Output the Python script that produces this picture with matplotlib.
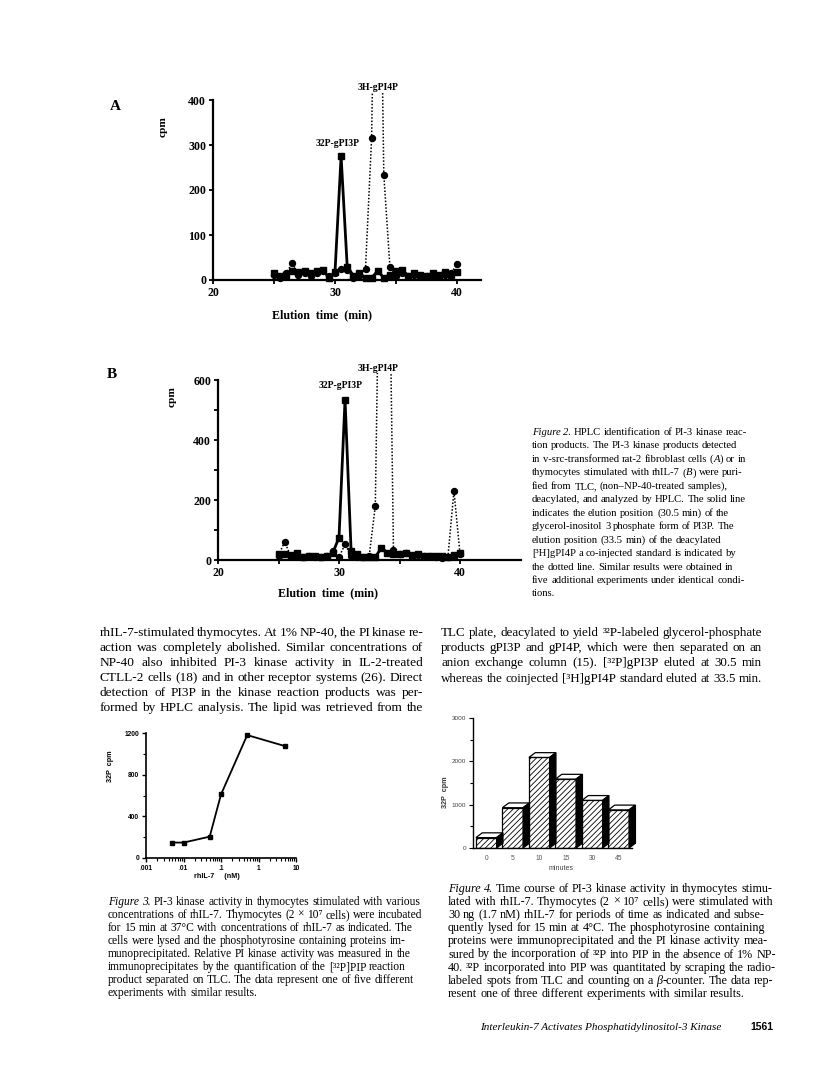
import numpy as np
import matplotlib
matplotlib.use('Agg')
import matplotlib.pyplot as plt
from matplotlib.patches import Polygon
from matplotlib.ticker import FixedLocator, LogLocator, NullFormatter

SERIF = ['Liberation Serif', 'DejaVu Serif']
SANS = ['Liberation Sans', 'DejaVu Sans']

# ---- Figure 2 : HPLC elution profiles -------------------------------------
elution_min = [25, 25.5, 26, 26.5, 27, 27.5, 28, 28.5, 29, 29.5, 30, 30.5, 31,
               31.5, 32, 32.5, 33, 33.5, 34, 34.5, 35, 35.5, 36, 36.5, 37, 37.5,
               38, 38.5, 39, 39.5, 40]
a_gpi3p = [15, 8, 12, 20, 18, 20, 15, 20, 22, 5, 18, 275, 30, 10, 15, 5, 5,
           20, 5, 12, 20, 22, 10, 15, 12, 10, 15, 12, 18, 12, 18]
a_gpi4p = [12, 5, 15, 38, 12, 15, 10, 15, 20, 10, 15, 25, 22, 5, 10, 25, 315,
           1200, 234, 30, 10, 15, 8, 12, 8, 8, 10, 10, 12, 15, 35]
b_gpi3p = [20, 20, 18, 22, 10, 15, 12, 10, 12, 25, 75, 535, 30, 20, 10, 10, 10,
           40, 25, 20, 20, 25, 18, 20, 15, 15, 12, 12, 10, 18, 25]
b_gpi4p = [15, 60, 15, 15, 10, 12, 10, 10, 15, 30, 10, 52, 15, 10, 10, 15, 180,
           1500, 1500, 35, 20, 25, 15, 18, 15, 12, 10, 8, 10, 230, 20]

# ---- Figure 3 : dose response -------------------------------------------
rhil7_nm = [0.005, 0.01, 0.05, 0.1, 0.5, 5]
dose_cpm = [148, 148, 205, 610, 1180, 1075]

# ---- Figure 4 : time course --------------------------------------------
time_labels = ['0', '5', '10', '15', '30', '45']
time_cpm = [240, 930, 2090, 1590, 1100, 880]

W, H = 816, 1074
fig = plt.figure(figsize=(W / 100, H / 100), dpi=100)
fig.patch.set_facecolor('white')
renderer = fig.canvas.get_renderer()


def px_axes(left, top, right, bottom):
    return fig.add_axes([left / W, 1 - bottom / H, (right - left) / W, (bottom - top) / H])


def ftext(x, y, s, **kw):
    return fig.text(x / W, 1 - y / H, s, **kw)


def measure(s, size, style='normal'):
    t = fig.text(0, 0, s, fontsize=size, style=style, family=SERIF)
    w = t.get_window_extent(renderer).width
    t.remove()
    return w


def parse(line):
    # words made of (text, italic) segments; '*' toggles italic
    words, cur, seg, ital = [], [], '', False
    for ch in line:
        if ch == '*':
            if seg:
                cur.append((seg, ital))
                seg = ''
            ital = not ital
        elif ch == ' ':
            if seg:
                cur.append((seg, ital))
                seg = ''
            if cur:
                words.append(cur)
                cur = []
        else:
            seg += ch
    if seg:
        cur.append((seg, ital))
    if cur:
        words.append(cur)
    return words


def natural_width(line, size):
    words = parse(line)
    sp = measure('n n', size) - measure('nn', size)
    tot = sum(measure(s, size, 'italic' if it else 'normal') for w in words for s, it in w)
    return tot + sp * (len(words) - 1)


def draw_line(line, x0, y, size, x1=None):
    words = parse(line)
    sp = measure('n n', size) - measure('nn', size)
    objs, widths = [], []
    for w in words:
        ts, ws = [], []
        for s, it in w:
            t = ftext(0, y, s, fontsize=size, style='italic' if it else 'normal',
                      family=SERIF, va='baseline', ha='left')
            ts.append(t)
            ws.append(t.get_window_extent(renderer).width)
        objs.append((ts, ws))
        widths.append(sum(ws))
    gap = sp
    if x1 is not None and len(words) > 1:
        gap = max((x1 - x0 - sum(widths)) / (len(words) - 1), 0.6 * sp)
    x = x0
    for (ts, ws), wsum in zip(objs, widths):
        xx = x
        for t, w in zip(ts, ws):
            t.set_x(xx / W)
            xx += w
        x += wsum + gap


def text_block(lines, x0, y0, step, width, justify=False):
    if justify:
        size = np.mean([10 * width / natural_width(ln, 10) for ln in lines]) * 0.985
    else:
        size = 10 * width / natural_width(lines[0], 10)
    for i, ln in enumerate(lines):
        draw_line(ln, x0, y0 + i * step, size, x0 + width if justify else None)


def hplc_panel(rect, sq, ci, ylim, yticks, yminor, xlim, top_val, lab3, lab4, letter, cpm_xy, xl_xy):
    ax = px_axes(*rect)
    ax.plot(elution_min, ci, color='k', ls=(0, (1, 1.2)), lw=1.1, marker='o', ms=4.3, zorder=2)
    ax.plot(elution_min, sq, color='k', ls='-', lw=2.0, marker='s', ms=5, zorder=3)
    ax.set_xlim(*xlim)
    ax.set_ylim(*ylim)
    for s in ['top', 'right']:
        ax.spines[s].set_visible(False)
    ax.spines['bottom'].set_position(('data', 0))
    ax.spines['left'].set_bounds(0, top_val)
    for s in ['bottom', 'left']:
        ax.spines[s].set_linewidth(1.6)
    ax.set_xticks([20, 30, 40])
    ax.xaxis.set_minor_locator(FixedLocator([25, 35]))
    ax.set_yticks(yticks)
    ax.yaxis.set_minor_locator(FixedLocator(yminor))
    ax.tick_params(which='both', direction='out', width=1.3, length=3, pad=2, labelsize=8.6)
    for lab in ax.get_xticklabels() + ax.get_yticklabels():
        lab.set_fontfamily(SERIF)
        lab.set_fontweight('bold')
    ax.text(lab3[0], lab3[1], '32P-gPI3P', ha='center', va='center', fontsize=7,
            weight='bold', family=SERIF)
    ax.text(lab4, ylim[1], '3H-gPI4P', ha='center', va='bottom', fontsize=7,
            weight='bold', family=SERIF)
    ftext(letter[0], letter[1], letter[2], fontsize=11, weight='bold', family=SERIF,
          ha='center', va='center')
    ftext(cpm_xy[0], cpm_xy[1], 'cpm', fontsize=8.2, weight='bold', family=SERIF,
          rotation=90, ha='center', va='center')
    ftext(xl_xy[0], xl_xy[1], 'Elution  time  (min)', fontsize=8.6, weight='bold',
          family=SERIF, ha='center', va='center')
    return ax


hplc_panel((213, 91.9, 481.4, 286.75), a_gpi3p, a_gpi4p, (-15, 418), [0, 100, 200, 300, 400], [],
           (20, 42), 400, (30.2, 304), 33.5, (115, 107, 'A'), (163, 127), (322, 315))
hplc_panel((218, 372.5, 520.5, 566), b_gpi3p, b_gpi4p, (-20, 625), [0, 200, 400, 600], [100, 300, 500],
           (20, 45), 600, (30.1, 583), 33.2, (112, 374, 'B'), (172, 397), (328, 593))

# ---- Figure 3 axes --------------------------------------------------------
ax3 = px_axes(146, 733, 296, 858)
ax3.plot(rhil7_nm, dose_cpm, color='k', lw=1.3, marker='s', ms=3, clip_on=False)
ax3.set_xscale('log')
ax3.set_xlim(0.001, 10)
ax3.set_ylim(0, 1200)
for s in ['top', 'right']:
    ax3.spines[s].set_visible(False)
for s in ['bottom', 'left']:
    ax3.spines[s].set_linewidth(1.2)
ax3.set_xticks([0.001, 0.01, 0.1, 1, 10])
ax3.set_xticklabels(['.001', '.01', '.1', '1', '10'])
ax3.xaxis.set_minor_locator(LogLocator(base=10, subs=range(2, 10)))
ax3.xaxis.set_minor_formatter(NullFormatter())
ax3.set_yticks([0, 400, 800, 1200])
ax3.yaxis.set_minor_locator(FixedLocator([200, 600, 1000]))
ax3.tick_params(which='major', direction='out', length=3, width=1, pad=2, labelsize=4.8)
ax3.tick_params(which='minor', direction='out', length=2, width=0.8)
for lab in ax3.get_xticklabels() + ax3.get_yticklabels():
    lab.set_fontfamily(SANS)
    lab.set_fontweight('bold')
ftext(110, 766, '32P  cpm', fontsize=5.2, weight='bold', family=SANS, rotation=90,
      ha='center', va='center')
ftext(217, 877, 'rhIL-7     (nM)', fontsize=5.2, weight='bold', family=SANS,
      ha='center', va='center')

# ---- Figure 4 axes --------------------------------------------------------
plt.rcParams['hatch.linewidth'] = 0.6
ax4 = px_axes(473, 718, 632, 848)
pos = np.arange(len(time_cpm))
bw, dx, dy = 0.78, 0.24, 110
ax4.bar(pos, time_cpm, width=bw, color='white', edgecolor='k', lw=0.9,
        hatch='//////', zorder=2)
for p, v in zip(pos, time_cpm):
    x0, x1 = p - bw / 2, p + bw / 2
    ax4.add_patch(Polygon([(x0, v), (x0 + dx, v + dy), (x1 + dx, v + dy), (x1, v)],
                          closed=True, fc='white', ec='k', lw=0.9, zorder=3, clip_on=False))
    ax4.add_patch(Polygon([(x1, 0), (x1 + dx, dy), (x1 + dx, v + dy), (x1, v)],
                          closed=True, fc='k', ec='k', lw=0.9, zorder=3, clip_on=False))
ax4.set_xlim(-0.5, 5.5)
ax4.set_ylim(0, 3000)
for s in ['top', 'right']:
    ax4.spines[s].set_visible(False)
for s in ['bottom', 'left']:
    ax4.spines[s].set_linewidth(1.0)
ax4.set_xticks(pos)
ax4.set_xticklabels(time_labels)
ax4.set_yticks([0, 1000, 2000, 3000])
ax4.yaxis.set_minor_locator(FixedLocator([500, 1500, 2500]))
ax4.tick_params(axis='x', length=0, pad=5, labelsize=4.8, labelcolor='#555555')
ax4.tick_params(axis='y', which='major', direction='out', length=3, width=0.8, pad=2,
                labelsize=4.6, labelcolor='#444444')
ax4.tick_params(axis='y', which='minor', direction='out', length=2, width=0.8)
for lab in ax4.get_xticklabels() + ax4.get_yticklabels():
    lab.set_fontfamily(SANS)
ftext(446, 792, '32P  cpm', fontsize=5.2, weight='bold', family=SANS, rotation=90,
      ha='center', va='center', color='#333333')
ftext(561, 868, 'minutes', fontsize=5, family=SANS, ha='center', va='center',
      color='#444444')

# ---- text ---------------------------------------------------------------
fig2_caption = [
    '*Figure 2.* HPLC identification of PI-3 kinase reac-',
    'tion products. The PI-3 kinase products detected',
    'in v-src-transformed rat-2 fibroblast cells (*A*) or in',
    'thymocytes stimulated with rhIL-7 (*B*) were puri-',
    'fied from TLC, (non–NP-40-treated samples),',
    'deacylated, and analyzed by HPLC. The solid line',
    'indicates the elution position (30.5 min) of the',
    'glycerol-inositol 3 phosphate form of PI3P. The',
    'elution position (33.5 min) of the deacylated',
    '[³H]gPI4P a co-injected standard is indicated by',
    'the dotted line. Similar results were obtained in',
    'five additional experiments under identical condi-',
    'tions.',
]
body_left = [
    'rhIL-7-stimulated thymocytes. At 1% NP-40, the PI kinase re-',
    'action was completely abolished. Similar concentrations of',
    'NP-40 also inhibited PI-3 kinase activity in IL-2-treated',
    'CTLL-2 cells (18) and in other receptor systems (26). Direct',
    'detection of PI3P in the kinase reaction products was per-',
    'formed by HPLC analysis. The lipid was retrieved from the',
]
body_right = [
    'TLC plate, deacylated to yield ³²P-labeled glycerol-phosphate',
    'products gPI3P and gPI4P, which were then separated on an',
    'anion exchange column (15). [³²P]gPI3P eluted at 30.5 min',
    'whereas the coinjected [³H]gPI4P standard eluted at 33.5 min.',
]
fig3_caption = [
    '*Figure 3.* PI-3 kinase activity in thymocytes stimulated with various',
    'concentrations of rhIL-7. Thymocytes (2 × 10⁷ cells) were incubated',
    'for 15 min at 37°C with concentrations of rhIL-7 as indicated. The',
    'cells were lysed and the phosphotyrosine containing proteins im-',
    'munoprecipitated. Relative PI kinase activity was measured in the',
    'immunoprecipitates by the quantification of the [³²P]PIP reaction',
    'product separated on TLC. The data represent one of five different',
    'experiments with similar results.',
]
fig4_caption = [
    '*Figure 4.* Time course of PI-3 kinase activity in thymocytes stimu-',
    'lated with rhIL-7. Thymocytes (2 × 10⁷ cells) were stimulated with',
    '30 ng (1.7 nM) rhIL-7 for periods of time as indicated and subse-',
    'quently lysed for 15 min at 4°C. The phosphotyrosine containing',
    'proteins were immunoprecipitated and the PI kinase activity mea-',
    'sured by the incorporation of ³²P into PIP in the absence of 1% NP-',
    '40. ³²P incorporated into PIP was quantitated by scraping the radio-',
    'labeled spots from TLC and counting on a *β*-counter. The data rep-',
    'resent one of three different experiments with similar results.',
]

text_block(fig2_caption, 532, 435, 13.45, 216)
text_block(body_left, 100, 636, 15, 323, justify=True)
text_block(body_right, 441, 636, 15.2, 321, justify=True)
text_block(fig3_caption, 108, 905, 13.0, 314)
text_block(fig4_caption, 448, 892, 13.1, 322)

ftext(480, 1030, 'Interleukin-7 Activates Phosphatidylinositol-3 Kinase', fontsize=8,
      style='italic', family=SERIF, va='baseline', ha='left')
ftext(750, 1030, '1561', fontsize=7.5, weight='bold', family=SANS, va='baseline', ha='left')

fig.savefig('out.png', dpi=100)
